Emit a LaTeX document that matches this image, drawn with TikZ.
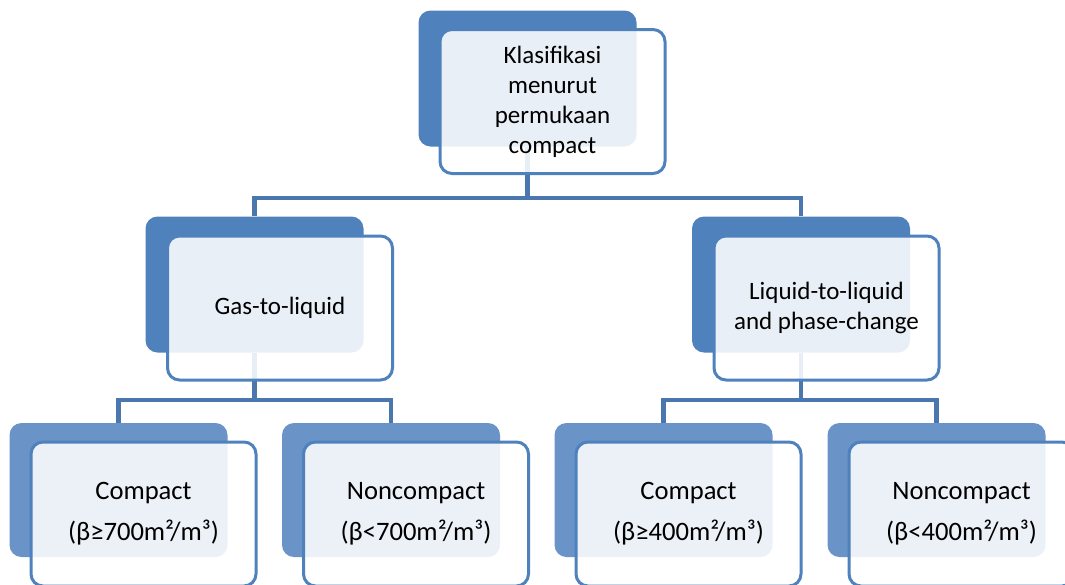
\documentclass[tikz,border=0pt]{standalone}
\usepackage{fontspec}
\setmainfont{Carlito}
\usepackage{tikz}
\usetikzlibrary{calc}
\definecolor{klblue}{HTML}{4F81BD}
\definecolor{kllight}{HTML}{6A93C8}
\tikzset{
 kl back/.style={rectangle,rounded corners=6pt,fill=klblue,draw=none,
                 minimum width=109pt,minimum height=68pt,inner sep=0pt},
 kl low/.style={fill=kllight,minimum height=67pt},
 kl front/.style={rectangle,rounded corners=6pt,draw=klblue,line width=1.5pt,
                  fill=white,fill opacity=.88,text opacity=1,
                  minimum width=112.5pt,minimum height=72pt,inner sep=2pt,
                  align=center,font=\fontsize{12.5}{15}\selectfont},
 kl big/.style={font=\fontsize{13.3}{15}\selectfont},
 kl link/.style={draw=klblue!92!black,line width=2.4pt}
}

\begin{document}
\begin{tikzpicture}[x=0.5pt,y=-0.5pt]
 \useasboundingbox (0,0) rectangle (1065,584);
 \coordinate (bus1) at (0,198);
 \coordinate (bus2) at (0,400);

 % back plates
 \node[kl back] (root bg) at (527.5,78.5) {};
 \node[kl back] (gas bg) at (254.5,284.5) {};
 \node[kl back] (liq bg) at (801,284.5) {};
 \node[kl back,kl low] (gc bg) at (118.5,490) {};
 \node[kl back,kl low] (gn bg) at (391,490) {};
 \node[kl back,kl low] (lc bg) at (663.5,490) {};
 \node[kl back,kl low] (ln bg) at (936.5,490) {};

 % tree links
 \draw[kl link] (root bg.south) -- (root bg.south |- bus1) -| (gas bg.north);
 \draw[kl link] (root bg.south |- bus1) -| (liq bg.north);
 \draw[kl link] (gas bg.south) -- (gas bg.south |- bus2) -| (gc bg.north);
 \draw[kl link] (gas bg.south |- bus2) -| (gn bg.north);
 \draw[kl link] (liq bg.south) -- (liq bg.south |- bus2) -| (lc bg.north);
 \draw[kl link] (liq bg.south |- bus2) -| (ln bg.north);

 % front cards
 \node[kl front] (root) at (552.5,101.5) {Klasifikasi\\menurut\\permukaan\\compact};
 \node[kl front] (gas) at (280,308) {Gas-to-liquid};
 \node[kl front] (liq) at (826.5,308) {Liquid-to-liquid\\and phase-change};
 \node[kl front,kl big] (gc) at (143.5,514) {Compact\\[5.5pt](β≥700m²/m³)};
 \node[kl front,kl big] (gn) at (416,514) {Noncompact\\[5.5pt](β<700m²/m³)};
 \node[kl front,kl big] (lc) at (688.5,514) {Compact\\[5.5pt](β≥400m²/m³)};
 \node[kl front,kl big] (ln) at (961.5,514) {Noncompact\\[5.5pt](β<400m²/m³)};
\end{tikzpicture}
\end{document}
